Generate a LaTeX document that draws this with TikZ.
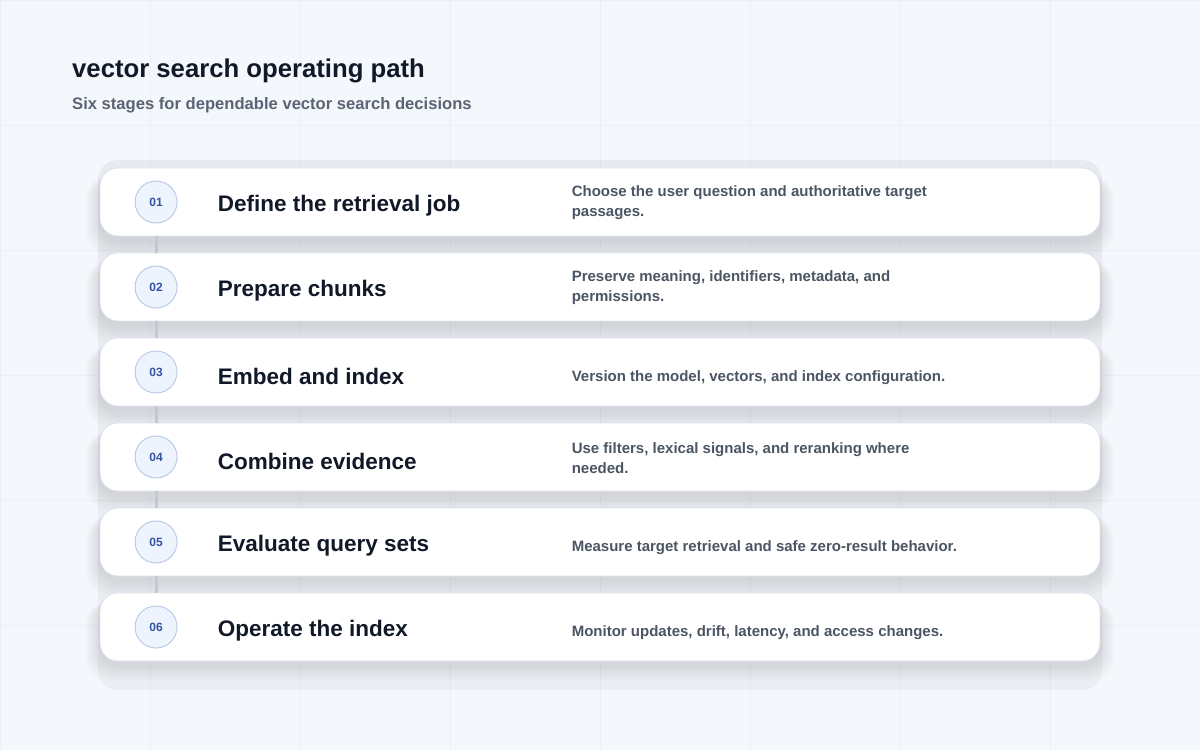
\documentclass[tikz,border=0pt]{standalone}
\usepackage{fontspec}
\setmainfont{Liberation Sans}
\usetikzlibrary{positioning}

\definecolor{bgpage}{HTML}{F4F7FC}
\definecolor{gridline}{HTML}{ECF0F6}
\definecolor{shade}{HTML}{8F9CB8}
\definecolor{cardline}{HTML}{DCE2EC}
\definecolor{ink}{HTML}{111827}
\definecolor{subink}{HTML}{5B6473}
\definecolor{descink}{HTML}{4B5563}
\definecolor{numfill}{HTML}{EEF4FE}
\definecolor{numline}{HTML}{B7C7E4}
\definecolor{numink}{HTML}{3554A0}
\definecolor{rail}{HTML}{C3C8D1}

\begin{document}
\begin{tikzpicture}[x=1pt,y=-1pt,node distance=16.2pt,
    card/.style={draw=cardline,line width=0.8pt,fill=white,rounded corners=18pt,
                 minimum width=1000pt,minimum height=68pt,inner sep=0pt},
    num/.style={circle,draw=numline,line width=0.9pt,fill=numfill,minimum size=42pt,
                inner sep=0pt,text=numink,font=\fontsize{12}{12}\selectfont\bfseries},
    head/.style={inner sep=0pt,anchor=west,text=ink,font=\fontsize{22.5}{26}\selectfont\bfseries},
    desc/.style={inner sep=0pt,anchor=west,align=left,text=descink,
                 font=\fontsize{15}{20}\selectfont\bfseries},
    rail/.style={draw=rail,line width=3pt}]
  %\tikzstyle{every card}=[fill=blue!5]

  \useasboundingbox (0,0) rectangle (1200,750);
  \fill[bgpage] (0,0) rectangle (1200,750);
  \draw[gridline,line width=0.6pt,xstep=150pt,ystep=125pt] (0,0) grid (1200,750);
  \fill[shade,opacity=0.035,rounded corners=20pt] (98,160) rectangle (1102,690);

  % soft shadows under the cards
  \foreach \y in {202,287,372,457,542,627}
    \foreach \s in {14,12,...,2}
      \fill[shade,opacity=0.012,rounded corners=24pt]
        (100-\s,\y-26) rectangle (1100+\s,\y+40+\s);

  \node[anchor=base west,inner sep=0pt,text=ink,font=\fontsize{25.7}{30}\selectfont\bfseries]
    (title) at (72,77) {vector search operating path};
  \node[anchor=base west,inner sep=0pt,text=subink,font=\fontsize{16.6}{20}\selectfont\bfseries]
    (sub) at (72,109) {Six stages for dependable vector search decisions};

  \node[card]                   (card1) at (600,202) {};
  \node[card,below=of card1]    (card2) {};
  \node[card,below=of card2]    (card3) {};
  \node[card,below=of card3]    (card4) {};
  \node[card,below=of card4]    (card5) {};
  \node[card,below=of card5]    (card6) {};

  \node[num,right=35pt of card1.west] (n1) {01};
  \node[num,right=35pt of card2.west] (n2) {02};
  \node[num,right=35pt of card3.west] (n3) {03};
  \node[num,right=35pt of card4.west] (n4) {04};
  \node[num,right=35pt of card5.west] (n5) {05};
  \node[num,right=35pt of card6.west] (n6) {06};

  \node[head] (h1) at ([xshift=118pt,yshift=-4pt]card1.west) {Define the retrieval job};
  \node[head] (h2) at ([xshift=118pt,yshift=-4pt]card2.west) {Prepare chunks};
  \node[head] (h3) at ([xshift=118pt,yshift=-4pt]card3.west) {Embed and index};
  \node[head] (h4) at ([xshift=118pt,yshift=-4pt]card4.west) {Combine evidence};
  \node[head] (h5) at ([xshift=118pt,yshift=-4pt]card5.west) {Evaluate query sets};
  \node[head] (h6) at ([xshift=118pt,yshift=-4pt]card6.west) {Operate the index};

  \node[desc] (d1) at ([xshift=472pt,yshift=-1pt]card1.west)
    {Choose the user question and authoritative target\\passages.};
  \node[desc] (d2) at ([xshift=472pt,yshift=-1pt]card2.west)
    {Preserve meaning, identifiers, metadata, and\\permissions.};
  \node[desc] (d3) at ([xshift=472pt,yshift=-6pt]card3.west)
    {Version the model, vectors, and index configuration.};
  \node[desc] (d4) at ([xshift=472pt,yshift=-1pt]card4.west)
    {Use filters, lexical signals, and reranking where\\needed.};
  \node[desc] (d5) at ([xshift=472pt,yshift=-6pt]card5.west)
    {Measure target retrieval and safe zero-result behavior.};
  \node[desc] (d6) at ([xshift=472pt,yshift=-6pt]card6.west)
    {Monitor updates, drift, latency, and access changes.};

  \path[rail] (card1.south -| n1) edge (card2.north -| n2)
              (card2.south -| n2) edge (card3.north -| n3)
              (card3.south -| n3) edge (card4.north -| n4)
              (card4.south -| n4) edge (card5.north -| n5)
              (card5.south -| n5) edge (card6.north -| n6);
\end{tikzpicture}
\end{document}
